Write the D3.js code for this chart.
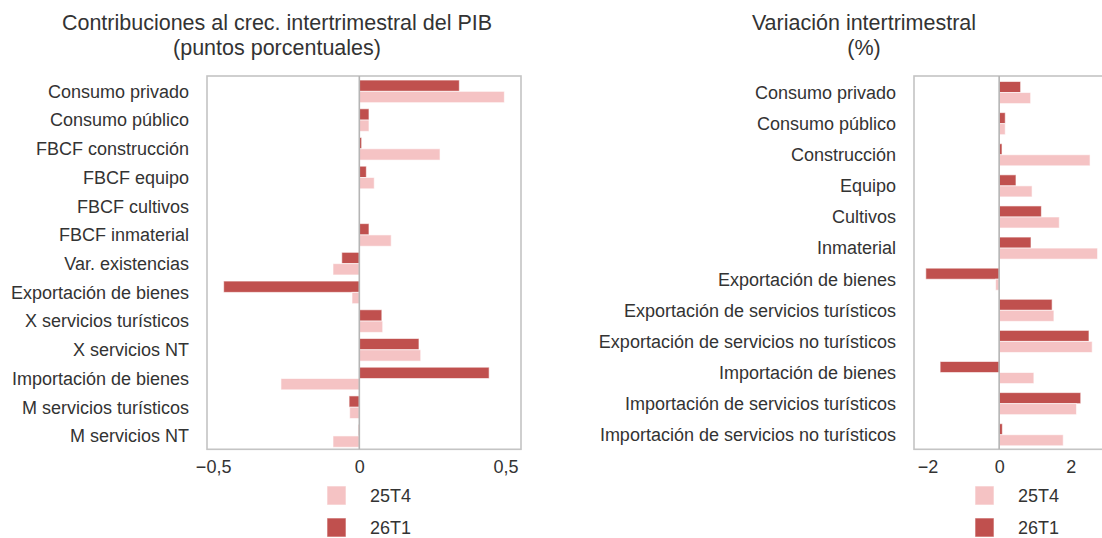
<!DOCTYPE html>
<html>
<head>
<meta charset="utf-8">
<script src="https://cdn.jsdelivr.net/npm/d3@7"></script>
<style>
  body { margin: 0; background: #fff; }
  svg { display: block; font-family: "Liberation Sans", Arial, sans-serif; }
</style>
</head>
<body>
<svg id="chart" width="1102" height="538"></svg>
<script>
// data
const series = ["25T4", "26T1"];

const contribCategories = [
  "Consumo privado", "Consumo público", "FBCF construcción", "FBCF equipo",
  "FBCF cultivos", "FBCF inmaterial", "Var. existencias", "Exportación de bienes",
  "X servicios turísticos", "X servicios NT", "Importación de bienes",
  "M servicios turísticos", "M servicios NT"
];
const contrib25T4 = [0.496, 0.033, 0.276, 0.051, 0.0, 0.109, -0.090, -0.025, 0.080, 0.210, -0.268, -0.033, -0.090];
const contrib26T1 = [0.342, 0.033, 0.008, 0.024, 0.0, 0.033, -0.060, -0.464, 0.077, 0.204, 0.444, -0.035, -0.003];
const contribTicks = [-0.5, 0, 0.5];

const varCategories = [
  "Consumo privado", "Consumo público", "Construcción", "Equipo", "Cultivos",
  "Inmaterial", "Exportación de bienes", "Exportación de servicios turísticos",
  "Exportación de servicios no turísticos", "Importación de bienes",
  "Importación de servicios turísticos", "Importación de servicios no turísticos"
];
const var25T4 = [0.88, 0.17, 2.54, 0.92, 1.68, 2.75, -0.10, 1.53, 2.60, 0.97, 2.16, 1.79];
const var26T1 = [0.60, 0.17, 0.08, 0.47, 1.18, 0.89, -2.05, 1.48, 2.51, -1.65, 2.28, 0.09];
const varTicks = [-2, 0, 2];

const colors = { "25T4": "#f5c3c4", "26T1": "#c0504e" };
const textColor = "#333";
const fmt = v => (v < 0 ? "\u2212" : "") + String(Math.abs(v)).replace(".", ",");

const svg = d3.select("#chart");

function panel(opt) {
  const g = svg.append("g");
  const x = d3.scaleLinear().domain(opt.domain).range([opt.left, opt.right]);
  const y = d3.scaleBand().domain(opt.categories).range([opt.top, opt.bottom]);
  const sub = d3.scaleBand().domain(["26T1", "25T4"]).range([0, y.bandwidth()])
    .paddingInner(0).paddingOuter(opt.subPad);

  const rows = opt.categories.map((c, i) => ({ c, "25T4": opt.a[i], "26T1": opt.b[i] }));

  // frame
  g.append("rect")
    .attr("x", opt.left).attr("y", opt.top)
    .attr("width", opt.frameRight - opt.left).attr("height", opt.bottom - opt.top)
    .attr("fill", "none").attr("stroke", "#c4c4c4").attr("stroke-width", 1.6);

  const rowG = g.selectAll("g.row").data(rows).join("g")
    .attr("class", "row")
    .attr("transform", d => `translate(0,${y(d.c) + 1})`);

  rowG.selectAll("rect").data(d => ["26T1", "25T4"].map(k => ({ k, v: d[k] }))).join("rect")
    .attr("x", d => x(Math.min(0, d.v)))
    .attr("width", d => Math.abs(x(d.v) - x(0)))
    .attr("y", d => sub(d.k))
    .attr("height", sub.bandwidth())
    .attr("fill", d => colors[d.k])
    .attr("stroke", "#fff").attr("stroke-opacity", 0.6).attr("stroke-width", 1);

  // zero line
  g.append("line")
    .attr("x1", x(0)).attr("x2", x(0))
    .attr("y1", opt.top).attr("y2", opt.bottom)
    .attr("stroke", "#b5b5b5").attr("stroke-width", 1.6);

  // category labels
  g.selectAll("text.cat").data(opt.categories).join("text")
    .attr("class", "cat")
    .attr("x", opt.left - 18)
    .attr("y", d => y(d) + y.bandwidth() / 2 + 1)
    .attr("dy", "0.35em")
    .attr("text-anchor", "end")
    .attr("font-size", 18)
    .attr("fill", textColor)
    .text(d => d);

  // x axis
  const ax = g.append("g")
    .attr("transform", `translate(0,${opt.bottom})`)
    .call(d3.axisBottom(x).tickValues(opt.ticks).tickFormat(fmt).tickSize(0).tickPadding(11));
  ax.select(".domain").remove();
  ax.selectAll("text").attr("font-size", 18).attr("fill", textColor)
    .attr("font-family", "Liberation Sans, Arial, sans-serif");

  // title
  const t = g.append("text")
    .attr("text-anchor", "middle").attr("font-size", 21.5).attr("fill", textColor);
  t.append("tspan").attr("x", opt.titleX).attr("y", 30).text(opt.title[0]);
  t.append("tspan").attr("x", opt.titleX).attr("y", 55).text(opt.title[1]);

  // legend
  const lg = g.append("g");
  series.forEach((s, i) => {
    lg.append("rect")
      .attr("x", opt.legendX).attr("y", 486 + i * 32)
      .attr("width", 19).attr("height", 19)
      .attr("fill", colors[s]).attr("stroke", "#fff").attr("stroke-opacity", 0.6);
    lg.append("text")
      .attr("x", opt.legendX + 43).attr("y", 486 + i * 32 + 9.5)
      .attr("dy", "0.35em")
      .attr("font-size", 18).attr("fill", textColor)
      .text(s);
  });
}

panel({
  categories: contribCategories, a: contrib25T4, b: contrib26T1,
  domain: [-0.521, 0.553], left: 207, right: 521, frameRight: 521,
  top: 76, bottom: 449.3, subPad: 0.27, ticks: contribTicks,
  title: ["Contribuciones al crec. intertrimestral del PIB", "(puntos porcentuales)"],
  titleX: 277, legendX: 327
});

panel({
  categories: varCategories, a: var25T4, b: var26T1,
  domain: [-2.38, 2.93], left: 914, right: 1104, frameRight: 1110,
  top: 76, bottom: 449.3, subPad: 0.41, ticks: varTicks,
  title: ["Variación intertrimestral", "(%)"],
  titleX: 864, legendX: 975
});
</script>
</body>
</html>
